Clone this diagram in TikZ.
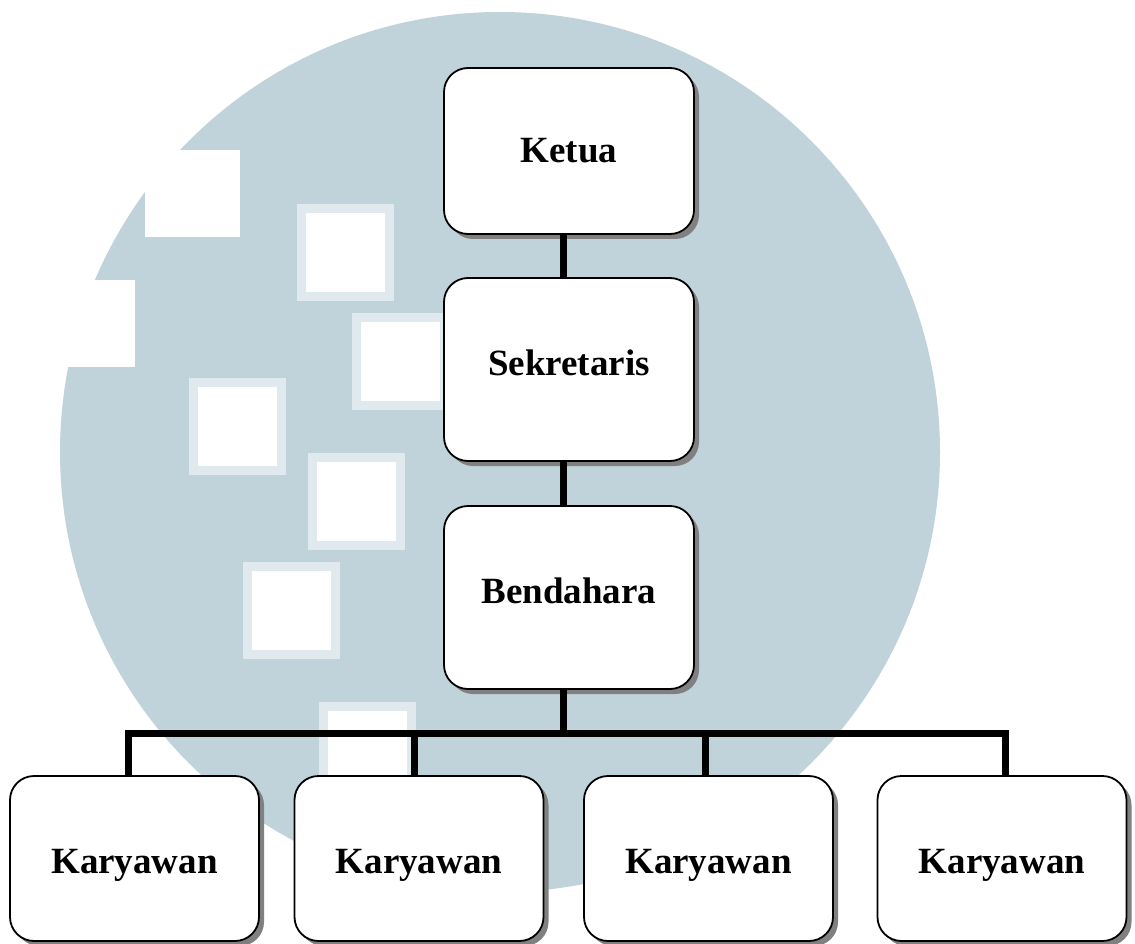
\documentclass[tikz,border=0pt]{standalone}
\usepackage{fontspec}
\setmainfont{Liberation Serif}
\usetikzlibrary{shadows}
\definecolor{wm}{RGB}{193,211,218}
\definecolor{wmedge}{RGB}{224,233,237}
\definecolor{shade}{RGB}{128,128,128}
\begin{document}
\begin{tikzpicture}[x=1pt,y=-1pt,
  box/.style={draw=black, line width=1.8pt, fill=white, rounded corners=24pt,
    inner sep=0pt, minimum width=250pt,
    font=\fontsize{37}{40}\selectfont\bfseries, text height=24pt, text depth=0pt,
    drop shadow={shadow xshift=5pt, shadow yshift=-5pt, fill=shade, opacity=1}},
  conn/.style={line width=7pt, line join=miter},
  wmsq/.style={fill=wmedge},
  wmin/.style={fill=white}]
\useasboundingbox (0,0) rectangle (1135,944);
% watermark
\fill[wm] (500,452) circle[radius=440];
\fill[white] (145,150) rectangle (240,237);
\fill[white] (0,280) rectangle (135,367);
\foreach \x/\y in {297/204, 352/313, 189/378, 308/453, 243/562, 319/702}{
  \fill[wmsq] (\x,\y) rectangle ++(97,97);
  \fill[wmin] (\x+9,\y+9) rectangle ++(79,79);
}
% nodes
\node[box, minimum height=166pt] (ketua) at (569,151) {Ketua};
\node[box, minimum height=183pt, text depth=13pt] (sekr) at (569,369.5) {Sekretaris};
\node[box, minimum height=183pt, text depth=13pt] (bend) at (569,597.5) {Bendahara};
\node[box, minimum width=249pt, minimum height=165pt, text height=29pt] (k1) at (134.5,858.5) {Karyawan};
\node[box, minimum width=249pt, minimum height=165pt, text height=29pt] (k2) at (419,858.5) {Karyawan};
\node[box, minimum width=249pt, minimum height=165pt, text height=29pt] (k3) at (708.5,858.5) {Karyawan};
\node[box, minimum width=249pt, minimum height=165pt, text height=29pt] (k4) at (1002,858.5) {Karyawan};
% connectors
\coordinate (bus) at (563,733);
\coordinate (d1) at (128,733);
\coordinate (d2) at (414,733);
\coordinate (d3) at (705,733);
\coordinate (d4) at (1005,733);
\draw[conn] ([xshift=-6pt]ketua.south) -- ([xshift=-6pt]sekr.north);
\draw[conn] ([xshift=-6pt]sekr.south) -- ([xshift=-6pt]bend.north);
\draw[conn] ([xshift=-6pt]bend.south) -- (bus);
\draw[conn] (d1 |- k1.north) -- (d1) -- (d4) -- (d4 |- k4.north);
\draw[conn] (d2) -- (d2 |- k2.north);
\draw[conn] (d3) -- (d3 |- k3.north);
\end{tikzpicture}
\end{document}
